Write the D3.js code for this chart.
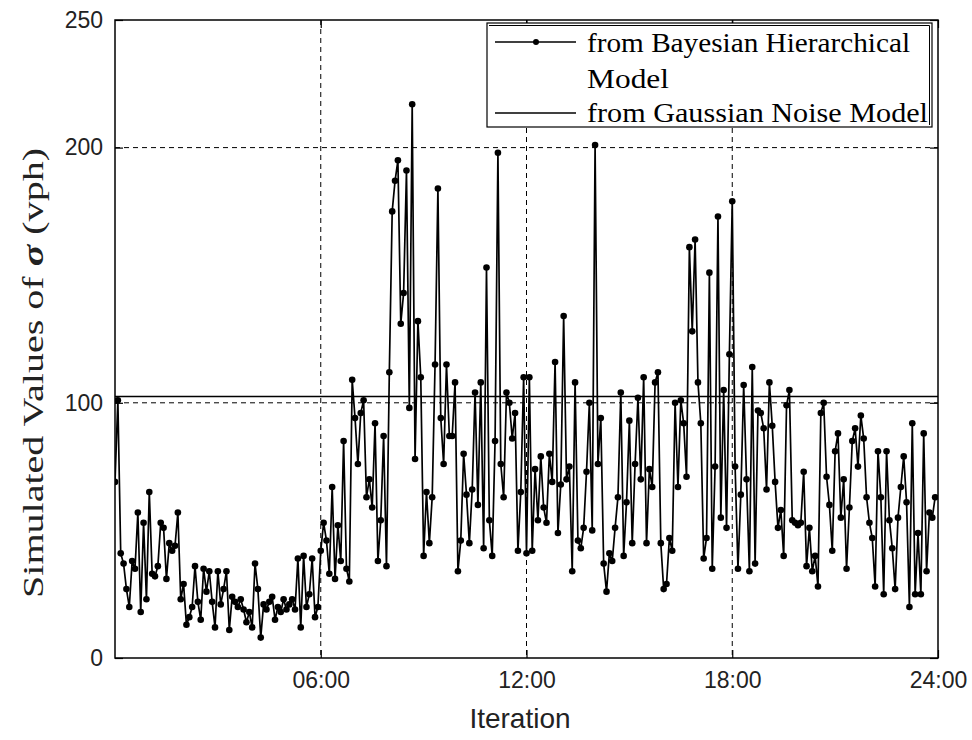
<!DOCTYPE html>
<html><head><meta charset="utf-8">
<script src="https://cdn.jsdelivr.net/npm/d3@7"></script>
<style>body{margin:0;background:#fff}svg{display:block}</style>
</head><body>
<svg id="chart" width="972" height="740"></svg>
<script>
// Simulated sigma values (vph) from the Bayesian hierarchical model, one per 5-minute interval
const sigmaBHM = [
 69,101,41,37,27,20,38,35,57,18,53,23,65,33,32,36,53,51,31,45,42,44,57,23,29,13,16,20,36,22,
 15,35,26,34,22,12,34,21,27,34,11,24,22,20,23,19,14,18,12,37,27,8,21,19,22,24,15,20,18,23,
 19,21,23,19,39,12,40,20,25,39,16,20,42,53,46,33,67,31,52,38,85,35,30,109,94,76,96,101,63,70,
 59,92,38,54,87,36,112,175,187,195,131,143,191,98,217,78,132,110,40,65,45,63,115,184,94,76,115,87,87,108,
 34,46,80,64,45,66,104,60,108,43,153,54,40,85,198,76,63,104,100,86,96,42,65,110,41,110,42,74,54,79,
 59,53,80,69,116,49,68,134,70,75,34,108,46,43,51,73,100,50,201,76,94,37,26,41,38,51,63,104,40,61,
 93,45,76,102,70,110,45,74,67,108,112,45,27,29,47,42,100,67,101,92,71,161,128,164,108,92,39,47,151,35,
 75,173,55,105,51,119,179,75,35,64,107,70,34,114,37,97,96,90,66,108,91,69,51,58,40,99,105,54,53,52,
 53,73,36,51,34,40,28,96,100,71,60,42,81,88,55,70,35,59,85,90,75,95,86,63,53,47,28,81,63,25,
 81,54,43,27,55,67,79,61,20,92,25,49,25,88,34,57,55,63
];
const gaussianSigma = 102.5;
const stepMinutes = 5;
const xTickHours = [6, 12, 18, 24];
const xTickLabels = ["06:00", "12:00", "18:00", "24:00"];
const yTickValues = [0, 100, 200, 250];
const yGridValues = [100, 200];
const legendLabels = ["from Bayesian Hierarchical", "Model", "from Gaussian Noise Model"];
const xTitle = "Iteration";

const svg = d3.select("#chart");
const L = 115, R = 938, T = 20, B = 658;
const x = d3.scaleLinear().domain([0, 24]).range([L, R]);
const y = d3.scaleLinear().domain([0, 250]).range([B, T]);

const series = sigmaBHM.map((v, i) => ({ t: i * stepMinutes / 60, v }));

svg.append("defs").append("clipPath").attr("id", "clip")
  .append("rect").attr("x", L).attr("y", T).attr("width", R - L).attr("height", B - T);

// grid
const grid = svg.append("g").attr("stroke", "#000").attr("stroke-width", 1).attr("stroke-dasharray", "5,4");
grid.selectAll("line.vx").data(xTickHours.filter(h => h < 24)).join("line")
  .attr("x1", d => x(d)).attr("x2", d => x(d)).attr("y1", T).attr("y2", B);
grid.selectAll("line.hy").data(yGridValues).join("line")
  .attr("x1", L).attr("x2", R).attr("y1", d => y(d)).attr("y2", d => y(d));

// gaussian line
svg.append("line").attr("x1", L).attr("x2", R)
  .attr("y1", y(gaussianSigma)).attr("y2", y(gaussianSigma))
  .attr("stroke", "#000").attr("stroke-width", 1.5);

// data line
const plot = svg.append("g").attr("clip-path", "url(#clip)");
plot.append("path").datum(series)
  .attr("d", d3.line().x(d => x(d.t)).y(d => y(d.v)))
  .attr("fill", "none").attr("stroke", "#000").attr("stroke-width", 1.7);
plot.selectAll("circle").data(series).join("circle")
  .attr("cx", d => x(d.t)).attr("cy", d => y(d.v)).attr("r", 3.3).attr("fill", "#000");

// axes box
svg.append("rect").attr("x", L).attr("y", T).attr("width", R - L).attr("height", B - T)
  .attr("fill", "none").attr("stroke", "#000").attr("stroke-width", 1.5);

// axes (inward ticks) with labels
const xAxis = d3.axisBottom(x).tickValues(xTickHours).tickSize(-8).tickPadding(14)
  .tickFormat((d, i) => xTickLabels[i]);
svg.append("g").attr("transform", `translate(0,${B})`).call(xAxis);
svg.append("g").attr("transform", `translate(0,${T})`)
  .call(d3.axisTop(x).tickValues(xTickHours).tickSize(-8).tickFormat(""));
const yAxis = d3.axisLeft(y).tickValues(yTickValues).tickSize(-8).tickPadding(12);
svg.append("g").attr("transform", `translate(${L},0)`).call(yAxis);
svg.append("g").attr("transform", `translate(${R},0)`)
  .call(d3.axisRight(y).tickValues(yTickValues).tickSize(-8).tickFormat(""));
svg.selectAll(".domain").remove();
svg.selectAll(".tick line").attr("stroke", "#000").attr("stroke-width", 1.2);
svg.selectAll(".tick text").attr("font-family", "Liberation Sans, Arial, sans-serif")
  .attr("font-size", 23).attr("fill", "#222");

// axis titles
svg.append("text").attr("x", 520).attr("y", 728).attr("text-anchor", "middle")
  .attr("font-family", "Liberation Sans, Arial, sans-serif").attr("font-size", 28)
  .attr("fill", "#222").text(xTitle);

const yl = svg.append("text").attr("transform", "translate(43,373) rotate(-90)")
  .attr("text-anchor", "middle").attr("font-family", "Liberation Serif, Times New Roman, serif")
  .attr("font-size", 30).attr("fill", "#222")
  .attr("textLength", 450).attr("lengthAdjust", "spacingAndGlyphs");
yl.append("tspan").text("Simulated Values of ");
yl.append("tspan").attr("font-weight", "bold").attr("font-style", "italic").text("σ");
yl.append("tspan").text(" (vph)");

// legend
const lg = svg.append("g");
lg.append("rect").attr("x", 487).attr("y", 23).attr("width", 445).attr("height", 104)
  .attr("fill", "#fff").attr("stroke", "#000").attr("stroke-width", 1.2);
lg.append("path").attr("d", "M489,25.5 H929.5 V125").attr("fill", "none").attr("stroke", "#000").attr("stroke-width", 1);
lg.append("line").attr("x1", 495).attr("x2", 576).attr("y1", 42).attr("y2", 42).attr("stroke", "#000").attr("stroke-width", 1.4);
lg.append("circle").attr("cx", 536).attr("cy", 42).attr("r", 3).attr("fill", "#000");
lg.append("line").attr("x1", 495).attr("x2", 576).attr("y1", 113).attr("y2", 113).attr("stroke", "#000").attr("stroke-width", 1.4);
const ly = [52, 88, 122];
const legendWidths = [323, 82, 341];
lg.selectAll("text").data(legendLabels).join("text")
  .attr("x", 587).attr("y", (d, i) => ly[i])
  .attr("font-family", "Liberation Serif, Times New Roman, serif").attr("font-size", 27)
  .attr("textLength", (d, i) => legendWidths[i]).attr("lengthAdjust", "spacingAndGlyphs")
  .text(d => d);
</script>
</body></html>
